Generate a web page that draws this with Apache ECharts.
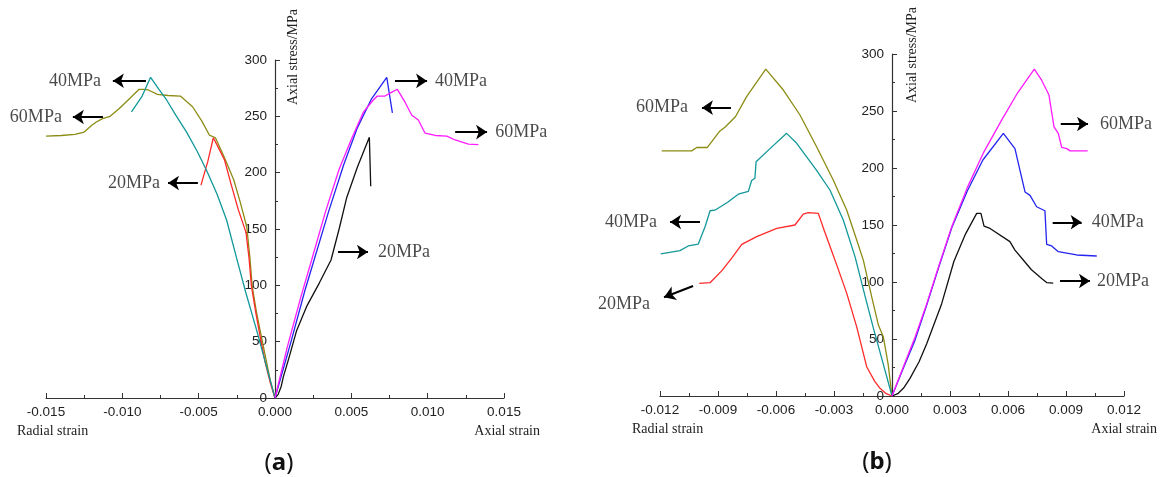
<!DOCTYPE html>
<html>
<head>
<meta charset="utf-8">
<script src="https://cdn.jsdelivr.net/npm/echarts/dist/echarts.min.js"></script>
<style>
  html, body { margin: 0; padding: 0; background: #fff; }
  #main { width: 1164px; height: 477px; }
</style>
</head>
<body>
<div id="main"></div>
<script>
// panel (a) - strain / stress(MPa)
var aRad60 = [[-0.0150,232.5],[-0.0140,233],[-0.0131,234],[-0.0125,236],[-0.0120,242],[-0.0117,245],[-0.0113,248],[-0.0108,250],
    [-0.0102,257],[-0.0095,266],[-0.0089,274],[-0.0086,274],[-0.0083,273.4],[-0.0077,269.5],[-0.0070,268.5],[-0.0062,268],
    [-0.0054,258.5],[-0.0048,246],[-0.0043,233.4],[-0.0039,231],[-0.0033,213],[-0.0027,193.5],[-0.0023,175],[-0.00185,152],
    [-0.00164,124],[-0.0015,100],[-0.0012,75],[-0.0009,55],[-0.0006,35],[-0.0003,15],[0,0]];
var aRad40 = [[-0.0094,254],[-0.0087,268],[-0.00815,284.6],[-0.0076,274],[-0.0071,264.5],[-0.0065,251],[-0.00579,236],
    [-0.0051,219],[-0.00448,202],[-0.0038,181],[-0.00317,158],[-0.00251,124],[-0.0019,93],[-0.0012,60],[-0.0006,30],[0,0]];
var aRad20 = [[-0.00485,189],[-0.0044,210],[-0.00404,231],[-0.0037,222],[-0.0033,211],[-0.0029,191],[-0.0024,167],
    [-0.0019,147],[-0.0017,124],[-0.00155,100],[-0.00125,75],[-0.00095,53],[-0.00065,32],[-0.0003,13],[0,0]];
var aAx40 = [[0,0],[0.00105,50],[0.00195,95],[0.00256,122.5],[0.0035,165],[0.0045,207],[0.0054,240],[0.0063,265],
    [0.00732,284.6],[0.00769,253]];
var aAx60 = [[0,0],[0.0008,45],[0.0017,90],[0.0024,122.5],[0.0033,165],[0.0042,203],[0.00503,230.5],[0.0058,254],
    [0.00644,264.5],[0.0067,268],[0.0072,268],[0.0076,271],[0.00801,274],[0.0085,263],[0.00896,251],[0.00939,246.7],
    [0.00983,235],[0.0105,233],[0.01125,232.5],[0.0118,229],[0.01267,225.4],[0.01332,224.8]];
var aAx20 = [[0,0],[0.0002,3],[0.0004,10],[0.00055,19],[0.0009,35],[0.00142,60],[0.0021,82],[0.0029,102],[0.00367,122.5],
    [0.0042,150],[0.0047,178],[0.0054,205],[0.00618,231.4],[0.00627,188]];

// panel (b)
var bRad60 = [[-0.01191,215],[-0.01036,215],[-0.0101,218],[-0.00955,218],[-0.00893,232],[-0.00864,235.7],[-0.0081,245],
    [-0.00752,262.6],[-0.00653,286.8],[-0.00562,268.4],[-0.00476,246.5],[-0.0039,218.7],[-0.00304,189.5],[-0.00234,163],
    [-0.00183,137],[-0.00148,119],[-0.00105,87],[-0.0007,62],[-0.00045,52],[-0.0002,28],[0,0]];
var bRad40 = [[-0.01196,124.6],[-0.01097,127.5],[-0.01054,131.6],[-0.01002,133.3],[-0.00967,148.5],[-0.00941,162.5],
    [-0.00916,163],[-0.0085,170],[-0.00795,177],[-0.00743,179.5],[-0.00726,189],[-0.00709,191],[-0.00703,205.5],
    [-0.00631,217],[-0.00545,230.4],[-0.00493,221.7],[-0.0039,198],[-0.00321,180.7],[-0.00252,154.4],[-0.00191,122],
    [-0.0014,88],[-0.00097,60],[-0.0005,31],[0,0]];
var bRad20 = [[-0.00997,98.8],[-0.00941,99.4],[-0.0088,110],[-0.00829,121],[-0.00777,133],[-0.007,139.8],[-0.00596,147],
    [-0.00502,150],[-0.00459,159.6],[-0.00433,160.8],[-0.00381,160.2],[-0.0035,145],[-0.0032,131],[-0.00286,115],
    [-0.00234,90],[-0.00183,60.8],[-0.00131,25.7],[-0.0009,13],[-0.00062,6.7],[-0.0003,2],[0,0]];
var bAx40 = [[0,0],[0.0006,25],[0.00119,49],[0.0018,80],[0.0024,112],[0.0031,148],[0.0039,180],[0.0047,207],[0.00576,230.4],
    [0.00636,217],[0.00662,198],[0.00688,179],[0.00714,176],[0.00748,166],[0.00791,162.5],[0.008,133],[0.00826,131.6],
    [0.0086,126.6],[0.00955,123.7],[0.01059,122.8]];
var bAx60 = [[0,0],[0.0006,26],[0.0012,52],[0.0018,81],[0.0024,113],[0.0031,149],[0.0039,183],[0.00472,213],[0.00567,242],
    [0.0065,266],[0.00736,286.8],[0.00774,277],[0.00812,264],[0.00838,236],[0.0086,230.4],[0.00878,218],[0.00904,217],
    [0.00921,215],[0.01012,215]];
var bAx20 = [[0,0],[0.0003,2],[0.0006,7],[0.00093,15.5],[0.0014,30],[0.0018,46],[0.00257,81],[0.0032,118],[0.0038,142],
    [0.00438,160.2],[0.0046,160.2],[0.00476,149],[0.00507,147],[0.0061,135.4],[0.00636,128],[0.00679,119.3],[0.0072,111],
    [0.00774,103],[0.008,99.5],[0.00834,99]];

// confining pressure tags and arrows
var tagText = ['40MPa', '60MPa', '20MPa', '40MPa', '60MPa', '20MPa'];
var aTagPos = [[-0.0114,281], [-0.01396,249.4], [-0.00754,190.8], [0.01048,281.4], [0.01442,236], [0.00675,129.6]];
var aArrows = [[[-0.00845,281.6],[-0.01062,281.6]], [[-0.01127,249.4],[-0.01324,249.4]], [[-0.00505,190.8],[-0.00701,190.8]],
    [[0.00786,281.4],[0.00996,281.4]], [[0.0118,236],[0.01389,236]], [[0.00413,129.6],[0.00609,129.6]]];
var bTagText = ['60MPa', '40MPa', '20MPa', '60MPa', '40MPa', '20MPa'];
var bTagPos = [[-0.01055,252.9], [-0.01216,152.6], [-0.01252,80.7], [0.01076,238.6], [0.01033,152.4], [0.0106,100.9]];
var bArrows = [[[-0.00833,252.9],[-0.00983,252.9]], [[-0.00993,152.6],[-0.01148,152.6]], [[-0.01029,96.5],[-0.01179,86.6]],
    [[0.00873,238.6],[0.01014,238.6]], [[0.00831,152.4],[0.00981,152.4]], [[0.00869,100.9],[0.01024,100.9]]];

var C_OLIVE = '#8c8c14', C_TEAL = '#12989a', C_RED = '#ff2a2a', C_BLUE = '#2424f0', C_PINK = '#ff1aff', C_BLACK = '#111';
var serif = '"Liberation Serif", "Times New Roman", serif';
var sans = '"Liberation Sans", Arial, sans-serif';

function curve(data, color, idx) {
    return {
        type: 'line', data: data, xAxisIndex: idx, yAxisIndex: idx,
        showSymbol: false, symbol: 'none', animation: false, clip: false,
        lineStyle: { color: color, width: 1.3 }
    };
}

function tags(pos, text, arrows, idx) {
    return {
        type: 'scatter', xAxisIndex: idx, yAxisIndex: idx, symbolSize: 0, clip: false, animation: false, silent: true,
        data: pos.map(function (p, i) {
            return {
                value: p,
                label: {
                    show: true, formatter: text[i], position: p[0] < 0 ? 'left' : 'right', distance: 0,
                    fontFamily: serif, fontSize: 18, color: '#1a1a1a'
                }
            };
        }),
        markLine: {
            silent: true, animation: false, symbol: ['none', 'arrow'], symbolSize: 11,
            label: { show: false },
            lineStyle: { color: '#000', width: 2, type: 'solid' },
            data: arrows.map(function (a) { return [{ coord: a[0] }, { coord: a[1] }]; })
        }
    };
}

function xAx(idx, lim, step) {
    return {
        gridIndex: idx, type: 'value', min: -lim, max: lim, interval: step,
        axisLine: { onZero: false, lineStyle: { color: '#333', width: 1.2 } },
        axisTick: { inside: true, length: 5, lineStyle: { color: '#333' } },
        minorTick: { show: true, splitNumber: 2, length: 3, lineStyle: { color: '#333' } },
        splitLine: { show: false },
        axisLabel: {
            margin: 7, fontFamily: sans, fontSize: 13.5, color: '#222',
            formatter: function (v) { return Math.abs(v) < 1e-9 ? '0.000' : v.toFixed(3); }
        }
    };
}

// y axis sits on strain = 0, i.e. in the middle of each grid
function yAx(idx, shift) {
    return {
        gridIndex: idx, type: 'value', min: 0, max: 300, interval: 50, position: 'left', offset: -shift,
        axisLine: { show: true, onZero: false, lineStyle: { color: '#333', width: 1.2 } },
        axisTick: { show: true, inside: true, length: 5, lineStyle: { color: '#333' } },
        minorTick: { show: true, splitNumber: 2, length: 3, lineStyle: { color: '#333' } },
        splitLine: { show: false },
        axisLabel: { margin: 8, fontFamily: sans, fontSize: 13.5, color: '#222' }
    };
}

function txt(x, y, s, align, rot) {
    return {
        type: 'text', x: x, y: y, rotation: rot || 0, silent: true,
        style: { text: s, font: '14px ' + serif, fill: '#222', textAlign: align, textVerticalAlign: 'middle' }
    };
}

function panelTag(x, y, letter) {
    return {
        type: 'text', x: x, y: y, silent: true,
        style: {
            text: '(' + '{b|' + letter + '})', textAlign: 'center', textVerticalAlign: 'middle',
            font: '24px "Noto Sans", sans-serif', fill: '#111',
            rich: { b: { fontWeight: 'bold', fontSize: 24, fontFamily: 'Noto Sans', fill: '#111' } }
        }
    };
}

var mychart = echarts.init(document.getElementById('main'));

var option = {
    backgroundColor: '#fff',
    animation: false,
    grid: [
        { left: 46, right: 660, top: 60, bottom: 79 },
        { left: 660, right: 40, top: 54, bottom: 81 }
    ],
    xAxis: [xAx(0, 0.015, 0.005), xAx(1, 0.012, 0.003)],
    yAxis: [yAx(0, 229), yAx(1, 232)],
    series: [
        curve(aRad60, C_OLIVE, 0),
        curve(aRad20, C_RED, 0),
        curve(aRad40, C_TEAL, 0),
        curve(aAx20, C_BLACK, 0),
        curve(aAx40, C_BLUE, 0),
        curve(aAx60, C_PINK, 0),
        tags(aTagPos, tagText, aArrows, 0),
        curve(bRad60, C_OLIVE, 1),
        curve(bRad40, C_TEAL, 1),
        curve(bRad20, C_RED, 1),
        curve(bAx20, C_BLACK, 1),
        curve(bAx40, C_BLUE, 1),
        curve(bAx60, C_PINK, 1),
        tags(bTagPos, bTagText, bArrows, 1)
    ],
    graphic: [
        txt(293, 105, 'Axial stress/MPa', 'left', Math.PI / 2),
        txt(912, 103, 'Axial stress/MPa', 'left', Math.PI / 2),
        txt(17, 431, 'Radial strain', 'left'),
        txt(540, 431, 'Axial strain', 'right'),
        txt(632, 429, 'Radial strain', 'left'),
        txt(1157, 429, 'Axial strain', 'right'),
        panelTag(279, 463, 'a'),
        panelTag(877, 462, 'b')
    ]
};

mychart.setOption(option, true);
</script>
</body>
</html>
